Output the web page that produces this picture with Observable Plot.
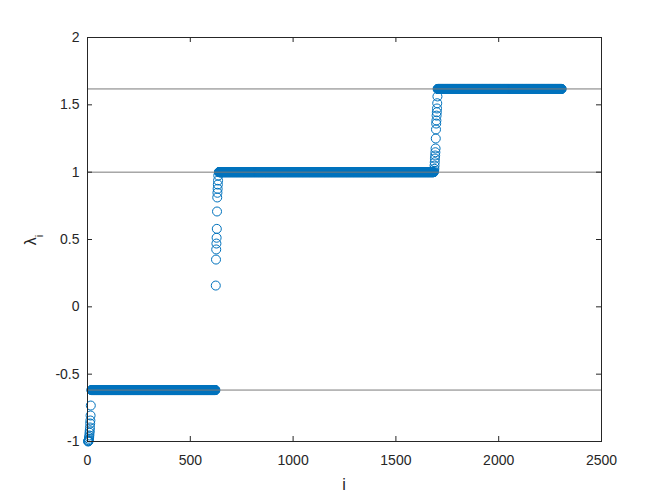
<!DOCTYPE html>
<html>
<head>
<meta charset="utf-8">
<script src="https://cdn.jsdelivr.net/npm/d3@7"></script>
<script src="https://cdn.jsdelivr.net/npm/@observablehq/plot@0.6"></script>
<style>
  html, body { margin: 0; padding: 0; background: #fff; }
  #chart { width: 664px; height: 498px; }
</style>
</head>
<body>
<div id="chart"></div>
<script>
// ---- data ----
const xTicks = [0, 500, 1000, 1500, 2000, 2500];
const yTicks = [-1, -0.5, 0, 0.5, 1, 1.5, 2];
const refLines = [-0.618, 1, 1.618];

// plateaus of (nearly) constant eigenvalues: index ranges and value
const plateauStart = [19, 639, 1703];
const plateauEnd = [622, 1684, 2306];
const plateauValue = [-0.618, 1, 1.618];

// isolated points in the transitions
const stepIndex = [
  3, 4, 5, 6, 7, 8, 9, 10, 11, 12, 13, 14, 15, 16,
  624, 625, 626, 627, 628, 629, 630, 631, 632, 633, 634, 635, 636,
  1686, 1687, 1688, 1689, 1690, 1691, 1692, 1693, 1694, 1695, 1696, 1697, 1698, 1699, 1700, 1701, 1702
];
const stepValue = [
  -1.000, -0.998, -0.995, -0.990, -0.980, -0.968, -0.955, -0.935, -0.918, -0.896, -0.866, -0.844, -0.807, -0.733,
  0.158, 0.351, 0.426, 0.470, 0.513, 0.579, 0.708, 0.812, 0.847, 0.876, 0.908, 0.938, 0.975,
  1.010, 1.025, 1.049, 1.074, 1.101, 1.124, 1.148, 1.176, 1.250, 1.317, 1.361, 1.384, 1.420, 1.445, 1.473, 1.512, 1.562
];

// ---- build table ----
const points = [];
plateauStart.forEach((s, k) => {
  for (let i = s; i <= plateauEnd[k]; i++) points.push({i, v: plateauValue[k]});
});
stepIndex.forEach((i, k) => points.push({i, v: stepValue[k]}));

const W = 664, H = 498, mL = 87, mR = 63, mT = 37, mB = 57;
const fw = W - mL - mR, fh = H - mT - mB;
const axisColor = "#262626";

const chart = Plot.plot({
  width: W,
  height: H,
  marginLeft: mL,
  marginRight: mR,
  marginTop: mT,
  marginBottom: mB,
  style: {fontFamily: "'Liberation Sans', Arial, Helvetica, sans-serif", color: axisColor, background: "#fff"},
  x: {domain: [0, 2500], label: null},
  y: {domain: [-1, 2], label: null},
  marks: [
    Plot.dot(points, {x: "i", y: "v", r: 4.5, fill: "none", stroke: "#0072BD", strokeWidth: 1}),
    Plot.ruleY(refLines, {y: d => d, stroke: "#7a7a7a", strokeWidth: 1}),
    Plot.frame({stroke: axisColor, strokeWidth: 1}),
    Plot.tickX(xTicks, {x: d => d, insetTop: fh - 5, stroke: axisColor}),
    Plot.tickX(xTicks, {x: d => d, insetBottom: fh - 5, stroke: axisColor}),
    Plot.tickY(yTicks, {y: d => d, insetRight: fw - 5, stroke: axisColor}),
    Plot.tickY(yTicks, {y: d => d, insetLeft: fw - 5, stroke: axisColor}),
    Plot.axisX({ticks: xTicks, tickSize: 0, tickPadding: 14, fontSize: 14, tickFormat: d => String(d), label: null}),
    Plot.axisY({ticks: yTicks, tickSize: 0, tickPadding: 8, fontSize: 14, tickFormat: d => String(d), label: null})
  ]
});

document.getElementById("chart").appendChild(chart);

// axis labels (with subscript)
const svg = d3.select(chart);
const yl = svg.append("text")
  .attr("transform", `translate(36,${mT + fh / 2 + 1}) rotate(-90)`)
  .attr("text-anchor", "middle")
  .attr("fill", axisColor)
  .attr("font-family", "'Liberation Sans', Arial, sans-serif")
  .attr("font-size", 16);
yl.append("tspan").text("λ");
yl.append("tspan").attr("dy", 7).attr("font-size", 11).text("i");

svg.append("text")
  .attr("x", mL + fw / 2)
  .attr("y", 490)
  .attr("text-anchor", "middle")
  .attr("fill", axisColor)
  .attr("font-family", "'Liberation Sans', Arial, sans-serif")
  .attr("font-size", 16)
  .text("i");
</script>
</body>
</html>
